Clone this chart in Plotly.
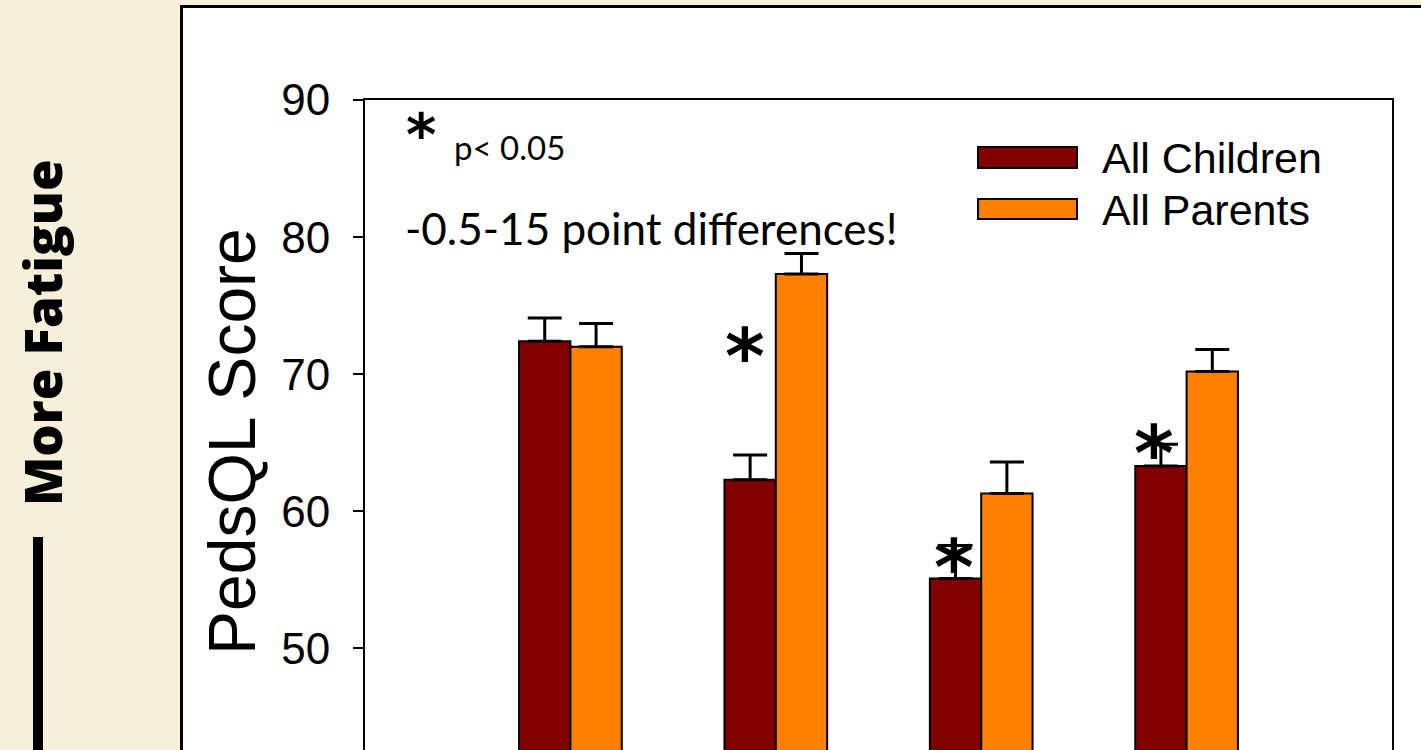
import plotly.graph_objects as go

# chart values
categories = ["Total", "General", "Sleep/Rest", "Cognitive"]
children = [72.4, 62.3, 55.1, 63.3]
children_err = [1.7, 1.8, 2.4, 1.6]
parents = [72.0, 77.3, 61.3, 70.2]
parents_err = [1.7, 1.5, 2.3, 1.6]
star_cats = ["General", "Sleep/Rest", "Cognitive"]
star_vals = [71.3, 55.9, 64.2]
star_xshift = [-31, -27, -33]

W, H = 1421, 750
L, R, T, B = 365, 1392, 100, 750
ARIAL = "Liberation Sans, Arial"
CALIBRI = "Lato, Open Sans, sans-serif"


def px_x(px):
    return (px - L) / (R - L)


def px_y(py):
    return (B - py) / (B - T)


fig = go.Figure()
fig.add_trace(go.Bar(
    x=categories, y=children, name="All Children",
    marker=dict(color="#800000", line=dict(color="black", width=2)),
    error_y=dict(type="data", array=children_err, symmetric=False, arrayminus=[0] * 4,
                 color="black", thickness=3, width=17),
))
fig.add_trace(go.Bar(
    x=categories, y=parents, name="All Parents",
    marker=dict(color="#FF8000", line=dict(color="black", width=2)),
    error_y=dict(type="data", array=parents_err, symmetric=False, arrayminus=[0] * 4,
                 color="black", thickness=3, width=17),
))

shapes = [
    # white slide panel with black frame
    dict(type="rect", xref="paper", yref="paper", x0=px_x(181.5), x1=px_x(1440),
         y0=px_y(770), y1=px_y(6.5), fillcolor="white", line=dict(color="black", width=3),
         layer="below"),
    # black bar under "More Fatigue"
    dict(type="rect", xref="paper", yref="paper", x0=px_x(33), x1=px_x(43),
         y0=px_y(770), y1=px_y(537), fillcolor="black", line=dict(width=0)),
    # legend swatches
    dict(type="rect", xref="paper", yref="paper", x0=px_x(978), x1=px_x(1077),
         y0=px_y(168), y1=px_y(147), fillcolor="#800000", line=dict(color="black", width=2)),
    dict(type="rect", xref="paper", yref="paper", x0=px_x(978), x1=px_x(1077),
         y0=px_y(219), y1=px_y(199), fillcolor="#FF8000", line=dict(color="black", width=2)),
]


def note(text, x, y, size, family, xanchor="center", angle=0, weight="normal"):
    return dict(text=text, xref="paper", yref="paper", x=px_x(x), y=px_y(y),
                xanchor=xanchor, yanchor="middle", textangle=angle, showarrow=False,
                font=dict(family=family, size=size, color="black", weight=weight))


annotations = [
    note("More Fatigue", 42, 333, 51, "Open Sans", angle=-90, weight=800),
    note("PedsQL Score", 232, 442, 66, ARIAL, angle=-90),
    note("All Children", 1100, 158, 43, ARIAL, xanchor="left"),
    note("All Parents", 1100, 210, 43, ARIAL, xanchor="left"),
    note("*", 421, 135, 58, "DejaVu Sans", weight="bold"),
    note("p< 0.05", 452, 147, 33, CALIBRI, xanchor="left"),
    note("-0.5-15 point differences!", 403, 228, 44, CALIBRI, xanchor="left"),
]
for cat, val, dx in zip(star_cats, star_vals, star_xshift):
    annotations.append(dict(
        text="*", x=cat, y=val, xshift=dx, xanchor="center", yanchor="middle",
        showarrow=False, font=dict(family="DejaVu Sans", size=76, color="black", weight="bold"),
    ))

fig.update_layout(
    width=W, height=H,
    margin=dict(l=L, r=W - R, t=T, b=H - B),
    paper_bgcolor="#F6EFDA",
    plot_bgcolor="white",
    barmode="group", bargap=0.5, bargroupgap=0,
    showlegend=False,
    shapes=shapes,
    annotations=annotations,
    xaxis=dict(range=[-1, 4], side="top", showline=True, linecolor="black", linewidth=2,
               showticklabels=False, ticks="", showgrid=False, zeroline=False),
    yaxis=dict(range=[42.59, 90], tickvals=[50, 60, 70, 80, 90], showline=True, mirror=True,
               linecolor="black", linewidth=2, ticks="outside", ticklen=10, tickwidth=2,
               tickcolor="black", ticklabelstandoff=14, showgrid=False, zeroline=False,
               tickfont=dict(family=ARIAL, size=44, color="black")),
)

# drop the browser's default page margin so the figure sits at the top-left corner
fig.write_html("out.html", config={"displayModeBar": False},
               post_script="document.body.style.margin='0';")
